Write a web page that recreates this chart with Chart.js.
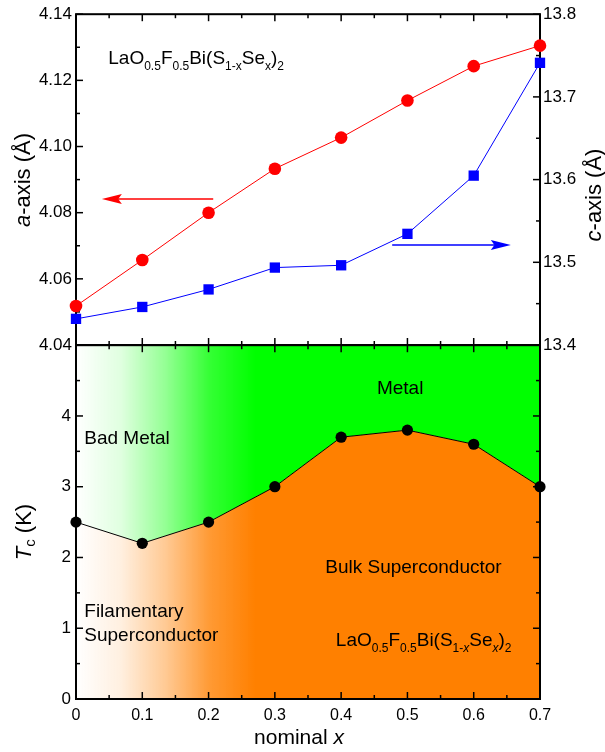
<!DOCTYPE html>
<html>
<head>
<meta charset="utf-8">
<script src="https://cdn.jsdelivr.net/npm/chart.js@4.4.1/dist/chart.umd.min.js"></script>
<style>
  html, body { margin: 0; padding: 0; background: #fff; }
  #wrap { position: relative; width: 605px; height: 752px; overflow: hidden; }
  canvas { position: absolute; left: 0; }
  #top { top: 0; }
  #bot { top: 330px; }
</style>
</head>
<body>
<div id="wrap">
  <canvas id="top" width="605" height="360"></canvas>
  <canvas id="bot" width="605" height="422"></canvas>
</div>
<script>
// ---- data ----
const nominalX = [0, 0.1, 0.2, 0.3, 0.4, 0.5, 0.6, 0.7];
const aAxis = [4.0518, 4.0657, 4.0800, 4.0933, 4.1027, 4.1139, 4.1243, 4.1305];
const cAxis = [13.4316, 13.4460, 13.4672, 13.4936, 13.4964, 13.5344, 13.6048, 13.7412];
const tc = [2.5, 2.2, 2.5, 3.0, 3.7, 3.8, 3.6, 3.0];

const xTickLabels = ['0', '0.1', '0.2', '0.3', '0.4', '0.5', '0.6', '0.7'];
const aTickLabels = ['4.04', '4.06', '4.08', '4.10', '4.12', '4.14'];
const cTickLabels = ['13.4', '13.5', '13.6', '13.7', '13.8'];
const tcTickLabels = ['0', '1', '2', '3', '4', ''];

// ---- text helpers ----
const FONT = '"Liberation Sans", Arial, Helvetica, sans-serif';
function fontStr(p) { return (p.italic ? 'italic ' : '') + p.size + 'px ' + FONT; }
function richWidth(ctx, parts) {
  let w = 0;
  for (const p of parts) { ctx.font = fontStr(p); w += ctx.measureText(p.t).width; }
  return w;
}
function drawRich(ctx, x, y, parts) {
  ctx.textBaseline = 'alphabetic';
  ctx.textAlign = 'left';
  ctx.fillStyle = '#000';
  let cx = x;
  for (const p of parts) {
    ctx.font = fontStr(p);
    ctx.fillText(p.t, cx, y + (p.dy || 0));
    cx += ctx.measureText(p.t).width;
  }
}
function drawRichRotated(ctx, cx, cy, parts, size) {
  ctx.save();
  ctx.translate(cx, cy);
  ctx.rotate(-Math.PI / 2);
  const w = richWidth(ctx, parts);
  drawRich(ctx, -w / 2, 0.26 * size, parts);
  ctx.restore();
}
function drawRichCentered(ctx, cx, y, parts) {
  const w = richWidth(ctx, parts);
  drawRich(ctx, cx - w / 2, y, parts);
}

const M = 19, S = 12, SUB = 5.5;
function formula(italicX) {
  const sx = italicX
    ? [{ t: '1-', size: S, dy: SUB }, { t: 'x', size: S, dy: SUB, italic: true }]
    : [{ t: '1-x', size: S, dy: SUB }];
  return [
    { t: 'LaO', size: M }, { t: '0.5', size: S, dy: SUB },
    { t: 'F', size: M }, { t: '0.5', size: S, dy: SUB },
    { t: 'Bi(S', size: M }, ...sx,
    { t: 'Se', size: M }, { t: 'x', size: S, dy: SUB, italic: italicX },
    { t: ')', size: M }, { t: '2', size: S, dy: SUB }
  ];
}

// ---- frame with inward major/minor ticks ----
function drawFrameTicks(chart, opts) {
  const { ctx, chartArea: a } = chart;
  ctx.save();
  ctx.strokeStyle = '#000';
  ctx.lineWidth = 1.5;
  const line = (x1, y1, x2, y2) => { ctx.beginPath(); ctx.moveTo(x1, y1); ctx.lineTo(x2, y2); ctx.stroke(); };
  const each = (scale, major, minor, fn) => {
    const n = Math.round((scale.max - scale.min) / minor);
    for (let i = 0; i <= n; i++) {
      const v = scale.min + i * minor;
      const r = v / major;
      const isMajor = Math.abs(r - Math.round(r)) < 1e-6;
      fn(scale.getPixelForValue(v), isMajor ? 7 : 4);
    }
  };
  const xs = chart.scales.x;
  each(xs, opts.x.major, opts.x.minor, (px, len) => {
    if (opts.x.top) line(px, a.top, px, a.top + len);
    if (opts.x.bottom) line(px, a.bottom, px, a.bottom - len);
  });
  const ls = chart.scales[opts.left.id];
  each(ls, opts.left.major, opts.left.minor, (py, len) => line(a.left, py, a.left + len, py));
  const rs = chart.scales[opts.right.id];
  each(rs, opts.right.major, opts.right.minor, (py, len) => line(a.right, py, a.right - len, py));
  ctx.lineWidth = 2;
  ctx.strokeRect(a.left, a.top, a.right - a.left, a.bottom - a.top);
  ctx.restore();
}

function arrow(ctx, x1, y, x2, color) {
  const dir = Math.sign(x2 - x1), hl = 20, hw = 5;
  ctx.save();
  ctx.strokeStyle = color;
  ctx.fillStyle = color;
  ctx.lineWidth = 1.5;
  ctx.beginPath(); ctx.moveTo(x1, y); ctx.lineTo(x2 - dir * hl * 0.8, y); ctx.stroke();
  ctx.beginPath();
  ctx.moveTo(x2, y);
  ctx.lineTo(x2 - dir * hl, y - hw);
  ctx.lineTo(x2 - dir * hl * 0.82, y);
  ctx.lineTo(x2 - dir * hl, y + hw);
  ctx.closePath();
  ctx.fill();
  ctx.restore();
}

Chart.defaults.font.family = FONT;
Chart.defaults.color = '#000';

const xScaleBase = { type: 'linear', min: 0, max: 0.7 };

// ---- lattice parameters panel ----
const topPlugin = {
  id: 'topDeco',
  beforeDatasetsDraw(chart) {
    drawFrameTicks(chart, {
      x: { major: 0.1, minor: 0.05, top: true, bottom: true },
      left: { id: 'yA', major: 0.02, minor: 0.01 },
      right: { id: 'yC', major: 0.1, minor: 0.05 }
    });
  },
  afterDatasetsDraw(chart) {
    const { ctx, scales } = chart;
    const x = scales.x, yA = scales.yA, yC = scales.yC;
    arrow(ctx, x.getPixelForValue(0.207), yA.getPixelForValue(4.0841), x.getPixelForValue(0.039), '#ff0000');
    arrow(ctx, x.getPixelForValue(0.477), yC.getPixelForValue(13.521), x.getPixelForValue(0.656), '#0000ff');
    drawRich(ctx, x.getPixelForValue(0.0487), yA.getPixelForValue(4.1249), formula(false));
    drawRichRotated(ctx, 24, 180, [{ t: 'a', size: 22, italic: true }, { t: '-axis (Å)', size: 22 }], 22);
    drawRichRotated(ctx, 595, 195, [{ t: 'c', size: 22, italic: true }, { t: '-axis (Å)', size: 22 }], 22);
  }
};

new Chart(document.getElementById('top'), {
  type: 'line',
  data: {
    datasets: [
      {
        label: 'a',
        data: nominalX.map((v, i) => ({ x: v, y: aAxis[i] })),
        yAxisID: 'yA',
        borderColor: '#ff0000',
        borderWidth: 1,
        pointStyle: 'circle',
        pointRadius: 6.3,
        pointBackgroundColor: '#ff0000',
        pointBorderColor: '#ff0000',
        pointBorderWidth: 0,
        clip: false
      },
      {
        label: 'c',
        data: nominalX.map((v, i) => ({ x: v, y: cAxis[i] })),
        yAxisID: 'yC',
        borderColor: '#0000ff',
        borderWidth: 1,
        pointStyle: 'rect',
        pointRadius: 7.3,
        pointBackgroundColor: '#0000ff',
        pointBorderColor: '#0000ff',
        pointBorderWidth: 0,
        clip: false
      }
    ]
  },
  options: {
    responsive: false,
    animation: false,
    layout: { padding: { top: 12, bottom: 15, left: 0, right: 0 } },
    plugins: { legend: { display: false }, tooltip: { enabled: false } },
    scales: {
      x: { ...xScaleBase, display: false },
      yA: {
        type: 'linear', position: 'left', min: 4.04, max: 4.14,
        ticks: { stepSize: 0.02, padding: 4, font: { size: 17 }, color: '#000',
                 callback: (v, i) => aTickLabels[i] },
        grid: { display: false, drawTicks: false },
        border: { display: false },
        afterFit: s => { s.width = 76; }
      },
      yC: {
        type: 'linear', position: 'right', min: 13.4, max: 13.8,
        ticks: { stepSize: 0.1, padding: 3, font: { size: 17 }, color: '#000',
                 callback: (v, i) => cTickLabels[i] },
        grid: { display: false, drawTicks: false },
        border: { display: false },
        afterFit: s => { s.width = 65; }
      }
    }
  },
  plugins: [topPlugin]
});

// ---- phase diagram panel ----
function fadeGradient(chart, rgb) {
  const area = chart.chartArea;
  if (!area) return 'rgb(' + rgb + ')';
  const xs = chart.scales.x;
  const g = chart.ctx.createLinearGradient(xs.getPixelForValue(0), 0, xs.getPixelForValue(0.27), 0);
  g.addColorStop(0, 'rgba(' + rgb + ',0)');
  g.addColorStop(0.25, 'rgba(' + rgb + ',0.12)');
  g.addColorStop(0.5, 'rgba(' + rgb + ',0.42)');
  g.addColorStop(0.75, 'rgba(' + rgb + ',0.8)');
  g.addColorStop(1, 'rgba(' + rgb + ',1)');
  return g;
}

const botPlugin = {
  id: 'botDeco',
  beforeDatasetDraw(chart, args) {
    if (args.index === 0) {
      drawFrameTicks(chart, {
        x: { major: 0.1, minor: 0.05, top: true, bottom: true },
        left: { id: 'y', major: 1, minor: 0.5 },
        right: { id: 'y', major: 1, minor: 0.5 }
      });
    }
  },
  afterDatasetsDraw(chart) {
    const { ctx, scales } = chart;
    const x = scales.x, y = scales.y;
    const reg = t => [{ t, size: M }];
    drawRich(ctx, x.getPixelForValue(0.0125), y.getPixelForValue(3.61), reg('Bad Metal'));
    drawRichCentered(ctx, x.getPixelForValue(0.489), y.getPixelForValue(4.31), reg('Metal'));
    drawRich(ctx, x.getPixelForValue(0.376), y.getPixelForValue(1.775), reg('Bulk Superconductor'));
    drawRich(ctx, x.getPixelForValue(0.0125), y.getPixelForValue(1.155), reg('Filamentary'));
    drawRich(ctx, x.getPixelForValue(0.0125), y.getPixelForValue(0.817), reg('Superconductor'));
    drawRich(ctx, x.getPixelForValue(0.392), y.getPixelForValue(0.746), formula(true));
    drawRichRotated(ctx, 25, 532 - 330, [
      { t: 'T', size: 22, italic: true }, { t: 'c', size: 15, dy: 4 }, { t: ' (K)', size: 22 }
    ], 22);
    drawRichCentered(ctx, 299, 744 - 330, [{ t: 'nominal ', size: 21 }, { t: 'x', size: 21, italic: true }]);
  }
};

new Chart(document.getElementById('bot'), {
  type: 'line',
  data: {
    datasets: [
      {
        label: 'Tc',
        data: nominalX.map((v, i) => ({ x: v, y: tc[i] })),
        borderColor: '#000',
        borderWidth: 1,
        pointRadius: 5.6,
        pointBackgroundColor: '#000',
        pointBorderColor: '#000',
        pointBorderWidth: 0,
        fill: 'start',
        backgroundColor: ctx => fadeGradient(ctx.chart, '255,128,0'),
        clip: false,
        order: 0
      },
      {
        label: 'metal',
        data: nominalX.map((v, i) => ({ x: v, y: tc[i] })),
        borderWidth: 0,
        showLine: true,
        borderColor: 'rgba(0,0,0,0)',
        pointRadius: 0,
        fill: 'end',
        backgroundColor: ctx => fadeGradient(ctx.chart, '0,255,0'),
        order: 1
      }
    ]
  },
  options: {
    responsive: false,
    animation: false,
    layout: { padding: { top: 15, bottom: 0, left: 0, right: 65 } },
    plugins: { legend: { display: false }, tooltip: { enabled: false } },
    scales: {
      x: {
        ...xScaleBase,
        position: 'bottom',
        ticks: { stepSize: 0.1, padding: 7, font: { size: 16 }, color: '#000',
                 maxRotation: 0, callback: (v, i) => xTickLabels[i] },
        grid: { display: false, drawTicks: false },
        border: { display: false },
        afterFit: s => { s.height = 53; }
      },
      y: {
        type: 'linear', position: 'left', min: 0, max: 5,
        ticks: { stepSize: 1, padding: 5, font: { size: 17 }, color: '#000',
                 callback: (v, i) => tcTickLabels[i] },
        grid: { display: false, drawTicks: false },
        border: { display: false },
        afterFit: s => { s.width = 76; }
      }
    }
  },
  plugins: [botPlugin]
});
</script>
</body>
</html>
